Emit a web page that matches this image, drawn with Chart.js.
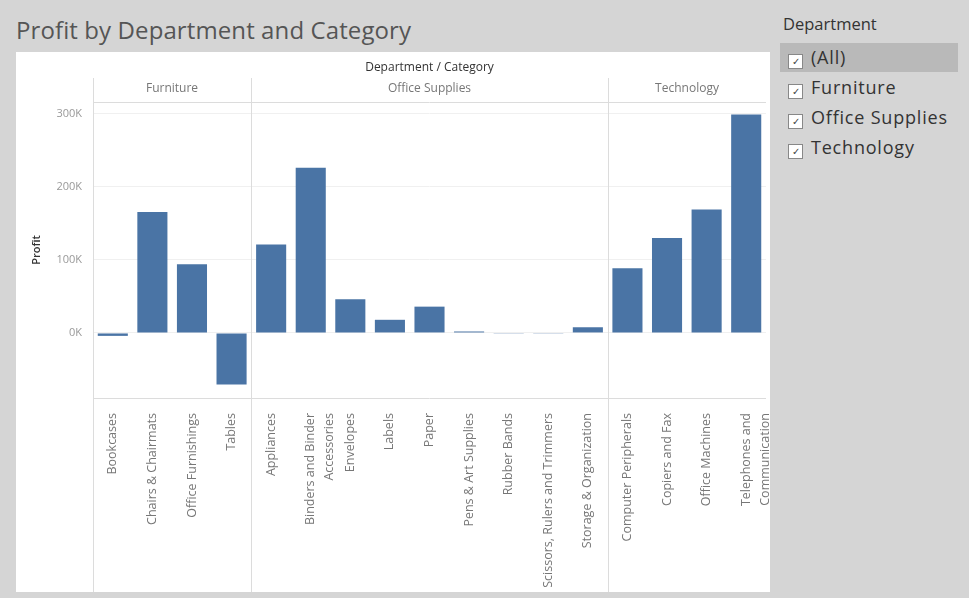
<!DOCTYPE html>
<html>
<head>
<meta charset="utf-8">
<script src="https://cdn.jsdelivr.net/npm/chart.js@4"></script>
<style>
  body { margin:0; width:969px; height:598px; background:#d5d5d5; font-family:"Open Sans", sans-serif; position:relative; overflow:hidden; }
  #title { position:absolute; left:16px; top:13px; font-size:24px; letter-spacing:0.1px; color:#555; white-space:nowrap; }
  #panel { position:absolute; left:16px; top:52px; width:754px; height:540px; background:#fff; }
  #filter { position:absolute; left:783px; top:12px; }
  #filter .head { font-size:16.5px; color:#333; font-weight:500; }
  .row { position:absolute; left:-3px; width:178px; height:29px; font-size:18px; letter-spacing:0.8px; color:#333; line-height:29px; white-space:nowrap; }
  .row.sel { background:#b9b9b9; }
  .box { display:inline-block; width:13px; height:13px; border:1px solid #888; background:#fff; margin:0 8px 0 8px; vertical-align:-1px; font-size:10px; line-height:13px; text-align:center; color:#444; letter-spacing:0; }
</style>
</head>
<body>
<div id="title">Profit by Department and Category</div>
<div id="panel"><canvas id="myCanvas" width="754" height="540"></canvas></div>
<div id="filter">
  <div class="head">Department</div>
</div>
<script>
// data
var categories = [
  "Bookcases", "Chairs & Chairmats", "Office Furnishings", "Tables",
  "Appliances", ["Binders and Binder", "Accessories"], "Envelopes", "Labels", "Paper",
  "Pens & Art Supplies", "Rubber Bands", "Scissors, Rulers and Trimmers", "Storage & Organization",
  "Computer Peripherals", "Copiers and Fax", "Office Machines", ["Telephones and", "Communication"]
];
var profit = [
  -4000, 165500, 94000, -70500,
  121000, 226000, 46000, 18000, 36000,
  2000, -1000, -1000, 7800,
  88700, 130000, 169000, 299000
];
var departments = ["Furniture", "Office Supplies", "Technology"];
var deptCounts = [4, 9, 4];
var yTicks = [0, 100000, 200000, 300000];
var filterItems = ["(All)", "Furniture", "Office Supplies", "Technology"];

// filter list
var filter = document.getElementById("filter");
filterItems.forEach(function(name, i){
  var r = document.createElement("div");
  r.className = "row" + (i == 0 ? " sel" : "");
  r.style.top = (31 + i * 30) + "px";
  r.innerHTML = '<span class="box">&#10003;</span>' + name;
  filter.appendChild(r);
});

// headers + pane lines
var panes = {
  id: "panes",
  afterDraw: function(chart){
    var ctx = chart.ctx, a = chart.chartArea, x = chart.scales.x;
    ctx.save();
    ctx.strokeStyle = "#dcdcdc";
    ctx.lineWidth = 1;
    var bounds = [a.left];
    var idx = 0;
    deptCounts.forEach(function(c){
      idx += c;
      if (idx < categories.length) {
        bounds.push(Math.round((x.getPixelForValue(idx - 1) + x.getPixelForValue(idx)) / 2));
      }
    });
    bounds.push(a.right);
    ctx.beginPath();
    for (var i = 0; i < bounds.length - 1; i++) {
      ctx.moveTo(Math.round(bounds[i]) + 0.5, 26);
      ctx.lineTo(Math.round(bounds[i]) + 0.5, chart.height);
    }
    ctx.moveTo(a.left, Math.round(a.top) + 0.5);
    ctx.lineTo(a.right, Math.round(a.top) + 0.5);
    ctx.moveTo(a.left, Math.round(a.bottom) + 0.5);
    ctx.lineTo(a.right, Math.round(a.bottom) + 0.5);
    ctx.stroke();

    ctx.textAlign = "center";
    ctx.textBaseline = "middle";
    ctx.fillStyle = "#333";
    ctx.font = "500 12px 'Open Sans'";
    ctx.fillText("Department / Category", (a.left + a.right) / 2, 16);
    ctx.fillStyle = "#777";
    ctx.font = "12px 'Open Sans'";
    for (var j = 0; j < departments.length; j++) {
      ctx.fillText(departments[j], (bounds[j] + bounds[j + 1]) / 2, 37);
    }
    ctx.restore();
  }
};

var myChart = document.getElementById("myCanvas").getContext('2d');
var chart = new Chart(myChart, {
  type: "bar",
  data: {
    labels: categories,
    datasets: [{
      label: "Profit",
      data: profit,
      backgroundColor: "#4a74a5",
      barPercentage: 0.76,
      categoryPercentage: 1
    }]
  },
  options: {
    responsive: false,
    animation: false,
    layout: { padding: { top: 50, right: 4, left: 0, bottom: 0 } },
    plugins: { legend: { display: false }, tooltip: { enabled: false } },
    scales: {
      x: {
        grid: { display: false },
        border: { display: false },
        ticks: {
          autoSkip: false, minRotation: 90, maxRotation: 90, padding: 7,
          color: "#777", font: { family: "Open Sans", size: 12.5, lineHeight: 1.5 }
        },
        afterFit: function(s){ s.height = 194; s.paddingLeft = 0; s.paddingRight = 0; }
      },
      y: {
        min: -89000, max: 316000,
        afterBuildTicks: function(s){ s.ticks = yTicks.map(function(v){ return { value: v }; }); },
        grid: { color: "#f0f0f0", drawTicks: false },
        border: { display: false },
        ticks: {
          padding: 11, color: "#999",
          font: { family: "Open Sans", size: 11 },
          callback: function(v){ return (v / 1000) + "K"; }
        },
        title: {
          display: true, text: "Profit", color: "#333",
          font: { family: "Open Sans", size: 11, weight: "600" },
          padding: { top: 14 }
        },
        afterFit: function(s){ s.width = 77; }
      }
    }
  },
  plugins: [panes]
});
</script>
</body>
</html>
